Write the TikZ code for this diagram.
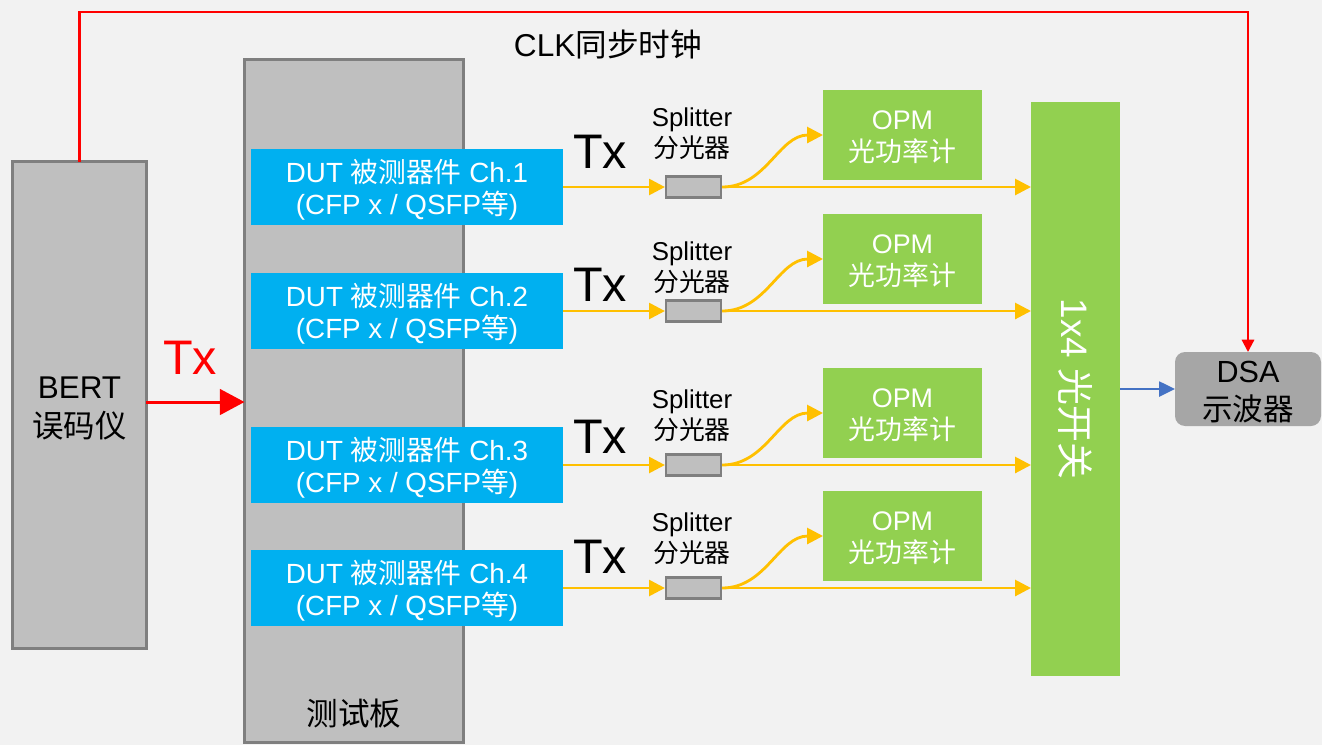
\documentclass[tikz,border=0pt]{standalone}
\usepackage{fontspec}
\setmainfont{Liberation Sans}
\newfontfamily\cjk{Noto Sans CJK SC}
\usetikzlibrary{arrows.meta}
\definecolor{bg}{HTML}{F2F2F2}
\definecolor{boxgray}{HTML}{BFBFBF}
\definecolor{edgegray}{HTML}{7F7F7F}
\definecolor{dsagray}{HTML}{A6A6A6}
\definecolor{dutblue}{HTML}{00B0F0}
\definecolor{opmgreen}{HTML}{92D050}
\definecolor{fibre}{HTML}{FFC000}
\definecolor{sigred}{HTML}{FF0000}
\definecolor{linkblue}{HTML}{4472C4}
\tikzset{
  graybox/.style={draw=edgegray, fill=boxgray, line width=1.7pt, inner sep=0pt, outer sep=0pt},
  dutbox/.style={fill=dutblue, inner sep=0pt, outer sep=0pt, minimum width=6.24cm, minimum height=1.52cm},
  dutlbl/.style={text=white, inner sep=0pt, align=center, font=\fontsize{15.8}{18}\selectfont},
  opmbox/.style={fill=opmgreen, inner sep=0pt, outer sep=0pt, minimum width=3.18cm, minimum height=1.8cm},
  opmlbl/.style={text=white, inner sep=0pt, align=center, font=\fontsize{15.3}{18}\selectfont},
  splitbox/.style={draw=edgegray, fill=boxgray, line width=1.2pt, minimum width=1.1cm, minimum height=0.42cm, inner sep=0pt, outer sep=0.6pt},
  fiber/.style={draw=fibre, line width=1.6pt, -{Triangle[length=9pt,width=9pt]}},
  txlabel/.style={font=\fontsize{27.6}{30}\selectfont, inner sep=0pt},
  splabel/.style={align=center, inner sep=0pt, font=\fontsize{14.7}{17.6}\selectfont},
}
\begin{document}
\begin{tikzpicture}[x=0.02cm, y=-0.02cm]
\fill[bg] (0,0) rectangle (1322,745);
\useasboundingbox (0,0) rectangle (1322,745);

% main boxes
\node[graybox, minimum width=2.68cm, minimum height=9.74cm] (bert) at (79.5,405) {};
\node[inner sep=0pt, align=center, font=\fontsize{17.9}{22.7}\selectfont] (bertlbl) at ([yshift=-2pt]bert.center) {BERT\\{\cjk 误码仪}};
\node[graybox, minimum width=4.38cm, minimum height=13.66cm] (board) at (354,401) {};
\node[font=\cjk\fontsize{18}{20}\selectfont, inner sep=0pt] (boardlbl) at (354,713) {测试板};

\node[fill=opmgreen, inner sep=0pt, outer sep=0pt, minimum width=1.78cm, minimum height=11.48cm] (sw) at (1075.5,389) {};
\node[text=white, rotate=-90, inner sep=0pt, font=\fontsize{21}{24}\selectfont] (swlbl) at (1075.5,389) {1x4 {\cjk 光开关}};

\node[fill=dsagray, rounded corners=0.2cm, inner sep=0pt, outer sep=0pt, minimum width=2.92cm, minimum height=1.48cm] (dsa) at (1248,389) {};
\node[inner sep=0pt, align=center, font=\fontsize{17.4}{21.5}\selectfont] (dsalbl) at ([yshift=-1.7pt]dsa.center) {DSA\\{\cjk 示波器}};

% clock line
\coordinate (clkL) at (79.5,12);
\coordinate (clkR) at (1248,12);
\draw[sigred, line width=1.2pt, -{Triangle[length=7pt,width=7pt]}] (bert.north) -- (clkL) -- (clkR) -- (dsa.north);
\node[inner sep=0pt, font=\fontsize{18}{20}\selectfont] (clklbl) at (608,45) {CLK{\cjk 同步时钟}};

% Tx from BERT
\path (bert.east) ++(0,-3) coordinate (txa);
\draw[sigred, line width=1.7pt, -{Triangle[length=14pt,width=14.5pt]}] (txa) -- (txa -| board.west);
\node[txlabel, text=sigred] (txred) at (190,358) {Tx};

% channels
\foreach \i/\y/\oy/\ty/\sy in {1/187/135/152/134, 2/311/259/285/268, 3/465/413/437/416, 4/588/536/557/539}{
  \node[dutbox] (dut\i) at (407,\y) {};
  \node[dutlbl] (dutl\i) at ([yshift=-1.6pt]dut\i.center) {DUT {\cjk 被测器件} Ch.\i\\(CFP x / QSFP{\cjk 等})};
  \node[splitbox] (sp\i) at (693.5,\y) {};
  \node[opmbox] (opm\i) at (902.5,\oy) {};
  \node[opmlbl] (opml\i) at ([yshift=-1.4pt]opm\i.center) {OPM\\{\cjk 光功率计}};
  \node[txlabel] (tx\i) at (600,\ty) {Tx};
  \node[splabel] (spl\i) at (692,\sy) {Splitter\\{\cjk 分光器}};
  \draw[fiber] (dut\i.east) -- (sp\i.west);
  \draw[fiber] (sp\i.east) -- (sp\i.east -| sw.west);
  \draw[fiber] (sp\i.east) to[out=0, in=180] (opm\i.west);
}

% switch to DSA
\draw[linkblue, line width=1.2pt, -{Triangle[length=9pt,width=8.5pt]}] (sw.east) -- (dsa.west);
\end{tikzpicture}
\end{document}
